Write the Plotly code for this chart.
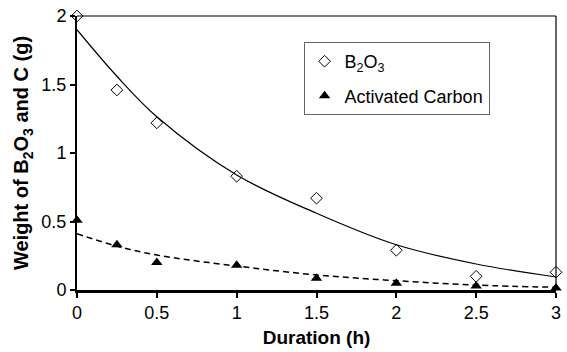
import plotly.graph_objects as go

# Measured data
duration = [0, 0.25, 0.5, 1, 1.5, 2, 2.5, 3]
b2o3 = [2.0, 1.46, 1.22, 0.83, 0.67, 0.29, 0.10, 0.13]
carbon = [0.51, 0.33, 0.20, 0.18, 0.085, 0.05, 0.03, 0.015]

# Trend lines
trend_x = [0, 0.25, 0.5, 1, 1.5, 2, 2.5, 3]
b2o3_trend = [1.9, 1.56, 1.265, 0.84, 0.56, 0.33, 0.19, 0.095]
carbon_trend = [0.41, 0.32, 0.255, 0.175, 0.11, 0.068, 0.036, 0.02]

xticks = [0, 0.5, 1, 1.5, 2, 2.5, 3]
xticklabels = ["0", "0.5", "1", "1.5", "2", "2.5", "3"]
yticks = [0, 0.5, 1, 1.5, 2]
yticklabels = ["0", "0.5", "1", "1.5", "2"]

FONT = "Arial, Liberation Sans, sans-serif"

fig = go.Figure()
fig.add_trace(go.Scatter(x=trend_x, y=b2o3_trend, mode="lines", line=dict(color="black", width=1.2, shape="spline"),
                         showlegend=False, hoverinfo="skip"))
fig.add_trace(go.Scatter(x=trend_x, y=carbon_trend, mode="lines", line=dict(color="black", width=1.5, dash="6px,4px", shape="spline"),
                         showlegend=False, hoverinfo="skip"))
fig.add_trace(go.Scatter(x=duration, y=b2o3, mode="markers", name="B<sub>2</sub>O<sub>3</sub>",
                         legendgroup="a",
                         marker=dict(symbol="diamond-open", size=9, color="black", line=dict(width=1, color="black")),
                         cliponaxis=False))
fig.add_trace(go.Scatter(x=duration, y=carbon, mode="markers", name="Activated Carbon",
                         legendgroup="b",
                         marker=dict(symbol="triangle-up", size=10, color="black"),
                         cliponaxis=False))

fig.update_layout(
    width=567, height=352,
    margin=dict(l=77, r=6, t=15, b=62),
    paper_bgcolor="white", plot_bgcolor="white",
    font=dict(family=FONT, size=18, color="black"),
    legend=dict(x=0.473, y=0.905, xanchor="left", yanchor="top",
                bordercolor="#666", borderwidth=1, bgcolor="white",
                font=dict(size=18), tracegroupgap=8, traceorder="grouped",
                itemwidth=30),
    xaxis=dict(range=[0, 3], tickvals=xticks, ticktext=xticklabels,
               ticks="outside", ticklen=5, tickwidth=1.5, tickcolor="black",
               showline=True, linecolor="black", linewidth=2.5,
               showgrid=False, zeroline=False,
               title=dict(text="<b>Duration (h)</b>", font=dict(size=19), standoff=9)),
    yaxis=dict(range=[0, 2], tickvals=yticks, ticktext=yticklabels,
               ticks="outside", ticklen=5, tickwidth=1.5, tickcolor="black",
               showline=True, linecolor="black", linewidth=2,
               showgrid=False, zeroline=False,
               title=dict(text="<b>Weight of B<sub>2</sub>O<sub>3</sub> and C (g)</b>", font=dict(size=20), standoff=7)),
    shapes=[dict(type="line", xref="paper", yref="paper", x0=0, x1=1, y0=1, y1=1, line=dict(color="black", width=1.2)),
            dict(type="line", xref="paper", yref="paper", x0=1, x1=1, y0=0, y1=1, line=dict(color="black", width=1.2))],
)

fig.write_html("out.html")
